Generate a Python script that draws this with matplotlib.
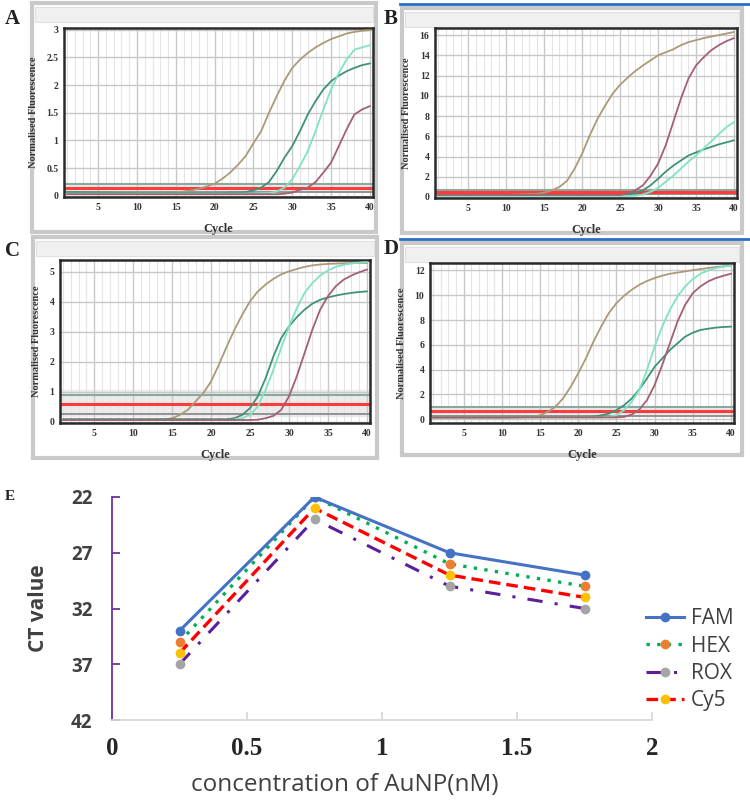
import matplotlib
matplotlib.use("Agg")
from matplotlib import pyplot as plt
from matplotlib.patches import Rectangle
from matplotlib.lines import Line2D

W, H = 750, 802

# ---- qPCR amplification curves ----
CYCLES = [1, 10, 14, 15, 16, 17, 18, 19, 20, 21, 22, 23, 24, 25, 26, 27,
          28, 29, 30, 31, 32, 33, 34, 35, 36, 37, 38, 39, 40]

# panel A
A_tan = [0.07, 0.06, 0.06, 0.07, 0.08, 0.10, 0.13, 0.17, 0.22, 0.31, 0.42, 0.56, 0.72, 0.95, 1.17,
         1.50, 1.80, 2.08, 2.31, 2.46, 2.58, 2.68, 2.76, 2.83, 2.88, 2.93, 2.96, 2.98, 2.99]
A_teal = [0.07, 0.05, 0.05, 0.05, 0.05, 0.05, 0.05, 0.05, 0.05, 0.05, 0.06, 0.06, 0.07, 0.10, 0.15,
          0.25, 0.45, 0.69, 0.90, 1.17, 1.47, 1.71, 1.92, 2.07, 2.17, 2.25, 2.31, 2.36, 2.39]
A_aqua = [0.04, 0.04, 0.04, 0.04, 0.04, 0.04, 0.04, 0.04, 0.04, 0.04, 0.04, 0.04, 0.04, 0.04, 0.05,
          0.05, 0.08, 0.15, 0.30, 0.54, 0.81, 1.17, 1.56, 1.92, 2.22, 2.46, 2.64, 2.68, 2.72]
A_mauve = [0.03, 0.03, 0.03, 0.03, 0.03, 0.03, 0.03, 0.03, 0.03, 0.03, 0.03, 0.03, 0.03, 0.03, 0.03,
           0.03, 0.03, 0.04, 0.06, 0.11, 0.15, 0.25, 0.42, 0.60, 0.90, 1.20, 1.47, 1.56, 1.62]

# panel B
B_tan = [0.20, 0.20, 0.30, 0.43, 0.66, 1.00, 1.60, 2.80, 4.30, 6.10, 7.70, 9.00, 10.2, 11.1, 11.8,
         12.45, 13.0, 13.5, 14.0, 14.3, 14.6, 15.0, 15.3, 15.5, 15.7, 15.85, 16.0, 16.15, 16.3]
B_teal = [0.20, 0.20, 0.20, 0.20, 0.20, 0.20, 0.20, 0.20, 0.20, 0.20, 0.20, 0.20, 0.20, 0.20, 0.22,
          0.40, 0.66, 1.15, 1.80, 2.50, 3.10, 3.60, 4.10, 4.40, 4.70, 4.95, 5.20, 5.40, 5.60]
B_aqua = [0.10, 0.10, 0.10, 0.10, 0.10, 0.10, 0.10, 0.10, 0.10, 0.10, 0.10, 0.10, 0.10, 0.10, 0.10,
          0.12, 0.25, 0.50, 0.90, 1.50, 2.10, 2.80, 3.50, 4.10, 4.80, 5.50, 6.20, 6.90, 7.40]
B_mauve = [0.20, 0.20, 0.20, 0.20, 0.20, 0.20, 0.20, 0.20, 0.20, 0.20, 0.20, 0.20, 0.20, 0.20, 0.35,
           0.66, 1.15, 2.10, 3.30, 5.10, 7.40, 9.70, 11.7, 13.0, 13.8, 14.5, 15.0, 15.4, 15.7]

# panel C
C_tan = [0.05, 0.05, 0.07, 0.11, 0.22, 0.39, 0.67, 0.95, 1.34, 1.90, 2.50, 3.07, 3.57, 4.02, 4.35,
         4.58, 4.77, 4.92, 5.02, 5.10, 5.17, 5.22, 5.25, 5.27, 5.28, 5.29, 5.30, 5.30, 5.30]
C_teal = [0.08, 0.08, 0.08, 0.08, 0.08, 0.08, 0.08, 0.08, 0.08, 0.08, 0.08, 0.11, 0.22, 0.45, 0.84,
          1.45, 2.18, 2.79, 3.18, 3.49, 3.74, 3.94, 4.07, 4.15, 4.21, 4.26, 4.30, 4.33, 4.35]
C_aqua = [0.05, 0.05, 0.05, 0.05, 0.05, 0.05, 0.05, 0.05, 0.05, 0.05, 0.05, 0.06, 0.11, 0.22, 0.50,
          1.06, 1.73, 2.46, 3.18, 3.79, 4.30, 4.63, 4.88, 5.05, 5.17, 5.24, 5.28, 5.31, 5.33]
C_mauve = [0.05, 0.05, 0.05, 0.05, 0.05, 0.05, 0.05, 0.05, 0.05, 0.05, 0.05, 0.05, 0.05, 0.05, 0.06,
           0.11, 0.19, 0.39, 0.84, 1.51, 2.29, 3.07, 3.74, 4.19, 4.52, 4.74, 4.88, 4.99, 5.08]

# panel D
D_tan = [0.10, 0.10, 0.19, 0.32, 0.59, 1.00, 1.67, 2.60, 3.70, 4.90, 6.26, 7.47, 8.55, 9.36, 9.95,
         10.44, 10.84, 11.15, 11.38, 11.58, 11.73, 11.83, 11.92, 12.02, 12.11, 12.20, 12.27, 12.33, 12.38]
D_teal = [0.20, 0.20, 0.20, 0.20, 0.20, 0.20, 0.20, 0.20, 0.20, 0.20, 0.22, 0.32, 0.46, 0.73, 1.13,
          1.67, 2.40, 3.29, 4.23, 4.90, 5.58, 6.12, 6.66, 6.98, 7.20, 7.30, 7.39, 7.44, 7.47]
D_aqua = [0.15, 0.15, 0.15, 0.15, 0.15, 0.15, 0.15, 0.15, 0.15, 0.15, 0.15, 0.15, 0.20, 0.32, 0.73,
          1.40, 2.35, 3.96, 5.85, 7.47, 8.82, 9.90, 10.71, 11.30, 11.73, 12.00, 12.19, 12.30, 12.38]
D_mauve = [0.15, 0.15, 0.15, 0.15, 0.15, 0.15, 0.15, 0.15, 0.15, 0.15, 0.15, 0.15, 0.15, 0.15, 0.19,
           0.38, 0.78, 1.54, 2.75, 4.37, 6.12, 7.87, 9.22, 10.17, 10.71, 11.11, 11.38, 11.57, 11.73]

# threshold lines: upper grey, red threshold, lower grey
A_thr = [0.22, 0.15, 0.07]
B_thr = [0.70, 0.45, 0.25]
C_thr = [0.90, 0.60, 0.25]
D_thr = [0.95, 0.70, 0.30]

A_yticks = [0, 0.5, 1, 1.5, 2, 2.5, 3]
B_yticks = [0, 2, 4, 6, 8, 10, 12, 14, 16]
C_yticks = [0, 1, 2, 3, 4, 5]
D_yticks = [0, 2, 4, 6, 8, 10, 12]

# ---- panel E: CT values ----
conc = [0.25, 0.75, 1.25, 1.75]
FAM = [34, 22, 27, 29]
HEX = [35, 22, 28, 30]
ROX = [37, 24, 30, 32]
Cy5 = [36, 23, 29, 31]

curve_colors = {"tan": "#ab9a78", "teal": "#3f9278", "aqua": "#80e2c6", "mauve": "#a3606f"}
serif = "Liberation Serif"
sans = "Open Sans"


def box(l, t, r, b):
    return [l / W, 1 - b / H, (r - l) / W, (b - t) / H]


def frame(l, t, r, b, blue=False):
    # window-like grey frame behind each qPCR screenshot
    fig.add_artist(Rectangle((l / W, 1 - b / H), (r - l) / W, (b - t) / H,
                             transform=fig.transFigure, facecolor="white",
                             edgecolor="#c9c9c9", lw=3, zorder=0))
    fig.add_artist(Rectangle(((l + 3) / W, 1 - (t + 19) / H), (r - l - 6) / W, 15 / H,
                             transform=fig.transFigure, facecolor="#f0f0f0",
                             edgecolor="#e0e0e0", lw=0.8, zorder=0))
    if blue:
        fig.add_artist(Line2D([(l - 2) / W, (r + 8) / W], [1 - (t - 4) / H] * 2,
                              transform=fig.transFigure, color="#2a6fc6", lw=2))


def qpcr(rect, curves, ylim, yticks, thr, band):
    ax = fig.add_axes(box(*rect))
    ax.axhspan(band[0], band[1], color="#ebebeb", zorder=0.5)
    ax.axhline(thr[0], color="#8aa8a0", lw=1.5, zorder=2)
    ax.axhline(thr[2], color="#8c8c8c", lw=1.3, zorder=2)
    for name in ["tan", "teal", "aqua", "mauve"]:
        ax.plot(CYCLES, curves[name], color=curve_colors[name], lw=1.3, zorder=3)
    ax.axhline(thr[1], color="#ff3b3b", lw=2.2, zorder=2.5)
    ax.set_xlim(0.6, 40.4)
    ax.set_ylim(*ylim)
    ax.set_xticks(range(5, 41, 5))
    ax.set_xticks(range(1, 41), minor=True)
    ax.set_yticks(yticks)
    ax.set_yticklabels([("%g" % v) for v in yticks])
    ax.grid(which="major", color="#c8c8c8", lw=1.0, zorder=0)
    ax.grid(which="minor", axis="x", color="#e4e4e4", lw=0.8, zorder=0)
    ax.tick_params(which="both", length=0, labelsize=7, pad=4)
    for lab in ax.get_xticklabels() + ax.get_yticklabels():
        lab.set_fontfamily(serif)
        lab.set_fontweight("bold")
        lab.set_color("#333333")
    for s in ax.spines.values():
        s.set_color("#2a2a2a")
        s.set_linewidth(1.8)
    ax.set_xlabel("Cycle", fontfamily=serif, fontweight="bold", fontsize=9,
                  color="#333333", labelpad=8)
    ax.set_ylabel("Normalised Fluorescence", fontfamily=serif, fontweight="bold",
                  fontsize=7.5, color="#333333", labelpad=6)
    return ax


fig = plt.figure(figsize=(W / 100, H / 100), dpi=100)

frame(32, 3, 376, 232)
frame(402, 8, 742, 233, blue=True)
frame(33, 237, 377, 458)
frame(402, 243, 742, 455, blue=True)

qpcr((64, 28, 373, 197), {"tan": A_tan, "teal": A_teal, "aqua": A_aqua, "mauve": A_mauve},
     (-0.02, 3.03), A_yticks, A_thr, (0.07, 0.22))
qpcr((435, 28, 737, 198), {"tan": B_tan, "teal": B_teal, "aqua": B_aqua, "mauve": B_mauve},
     (-0.1, 16.7), B_yticks, B_thr, (0.25, 0.70))
qpcr((60, 260, 370, 423), {"tan": C_tan, "teal": C_teal, "aqua": C_aqua, "mauve": C_mauve},
     (-0.05, 5.4), C_yticks, C_thr, (0.20, 1.05))
qpcr((430, 263, 734, 423), {"tan": D_tan, "teal": D_teal, "aqua": D_aqua, "mauve": D_mauve},
     (-0.3, 12.6), D_yticks, D_thr, (0.30, 0.95))

for lab, x, y, fs in [("A", 5, 24, 15), ("B", 384, 24, 15), ("C", 5, 256, 15),
                      ("D", 384, 254, 15), ("E", 5, 500, 11)]:
    fig.text(x / W, 1 - y / H, lab, fontfamily=serif, fontweight="bold", fontsize=fs,
             color="#222222")

# ---- panel E ----
axE = fig.add_axes(box(112, 497, 652, 720))
axE.plot(conc, FAM, color="#4472c4", lw=2.2, marker="o", ms=6, mfc="#4472c4", mec="#4472c4",
         label="FAM", zorder=4)
axE.plot(conc, HEX, color="#00b050", lw=2.4, ls=(0, (1, 2.2)), marker="o", ms=6,
         mfc="#ed7d31", mec="#ed7d31", label="HEX", zorder=3)
axE.plot(conc, ROX, color="#5b1f9a", lw=2.2, ls=(0, (5, 4, 1, 4)), marker="o", ms=6,
         mfc="#a5a5a5", mec="#a5a5a5", label="ROX", zorder=2)
axE.plot(conc, Cy5, color="#ff0000", lw=2.4, ls=(0, (3.5, 1.8)), marker="o", ms=6,
         mfc="#ffc000", mec="#ffc000", label="Cy5", zorder=3)
axE.set_xlim(0, 2)
axE.set_ylim(42, 22)
axE.set_yticks([22, 27, 32, 37, 42])
axE.set_xticks([0, 0.5, 1, 1.5, 2])
axE.set_xticklabels(["0", "0.5", "1", "1.5", "2"], fontfamily=serif, fontweight="bold",
                    fontsize=18, color="#262626")
axE.set_yticklabels(["22", "27", "32", "37", "42"], fontfamily=sans, fontweight="bold",
                    fontsize=13.5, color="#404040")
axE.spines["top"].set_visible(False)
axE.spines["right"].set_visible(False)
axE.spines["left"].set_color("#7030a0")
axE.spines["left"].set_linewidth(1.3)
axE.spines["bottom"].set_color("#d9d9d9")
axE.spines["bottom"].set_linewidth(1.3)
axE.tick_params(axis="y", direction="in", length=6, color="#7030a0", width=1.3, pad=14)
axE.tick_params(axis="x", direction="in", length=6, color="#d9d9d9", width=1.3, pad=12)
axE.set_ylabel("CT value", fontfamily=sans, fontweight="bold", fontsize=15,
               color="#404040", labelpad=16)
axE.set_xlabel("concentration of AuNP(nM)", fontfamily=sans, fontsize=17.5,
               color="#404040")
axE.xaxis.set_label_coords((345 - 112) / 540, (720 - 785) / 223, transform=axE.transAxes)
axE.xaxis.label.set_va("center")
axE.legend(loc="upper left", bbox_to_anchor=(636 / W, 1 - 598 / H),
           bbox_transform=fig.transFigure, frameon=False, borderpad=0,
           prop={"family": sans, "size": 15}, labelcolor="#404040",
           handlelength=1.8, handletextpad=0.35, labelspacing=0.3)

fig.savefig("out.png", dpi=100)
